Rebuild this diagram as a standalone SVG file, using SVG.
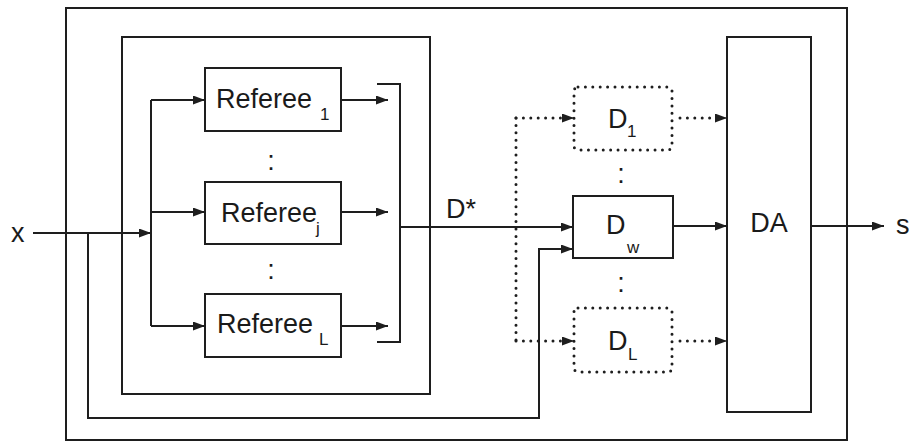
<svg xmlns="http://www.w3.org/2000/svg" width="912" height="441" viewBox="0 0 912 441">
  <style>
    .box { fill: #ffffff; stroke: #1e1e1e; stroke-width: 2; }
    .frame { fill: none; stroke: #1e1e1e; stroke-width: 2; }
    .dotbox { fill: #ffffff; stroke: #1e1e1e; stroke-width: 3; stroke-linecap: round; stroke-dasharray: 0 7.4; }
    .wire { fill: none; stroke: #1e1e1e; stroke-width: 2; }
    .dotwire { fill: none; stroke: #1e1e1e; stroke-width: 3; stroke-linecap: round; stroke-dasharray: 0 7.4; }
    .lbl { font-family: "Liberation Sans", Arial, sans-serif; font-size: 27px; fill: #1a1a1a; }
    .sub { font-family: "Liberation Sans", Arial, sans-serif; font-size: 17px; fill: #1a1a1a; }
  </style>
  <defs>
    <marker id="arrow" viewBox="0 0 12 9" refX="12" refY="4.5" markerWidth="12" markerHeight="9" markerUnits="userSpaceOnUse" orient="auto">
      <path d="M0,0 L12,4.5 L0,9 Z" fill="#1e1e1e"/>
    </marker>
  </defs>

  <rect width="912" height="441" fill="#ffffff"/>

  <!-- enclosing frames -->
  <g id="system-frame">
    <rect class="frame" x="66" y="8" width="781" height="432"/>
  </g>
  <g id="referee-bank">
    <rect class="frame" x="122" y="37" width="308" height="357"/>
  </g>

  <!-- referees -->
  <g id="referee-1">
    <rect class="box" x="205" y="68" width="136" height="63"/>
    <text class="lbl" x="216" y="108">Referee</text>
    <text class="sub" x="320" y="120">1</text>
  </g>
  <g id="referee-j">
    <rect class="box" x="205" y="182" width="136" height="62"/>
    <text class="lbl" x="221" y="222">Referee</text>
    <text class="sub" x="316" y="234">j</text>
  </g>
  <g id="referee-L">
    <rect class="box" x="205" y="294" width="136" height="63"/>
    <text class="lbl" x="217" y="333">Referee</text>
    <text class="sub" x="319" y="345">L</text>
  </g>
  <text class="lbl" x="271" y="170" text-anchor="middle">:</text>
  <text class="lbl" x="271" y="279" text-anchor="middle">:</text>

  <!-- detectors -->
  <g id="detector-1">
    <rect class="dotbox" x="574" y="87" width="98" height="63" rx="4"/>
    <text class="lbl" x="608" y="128">D</text>
    <text class="sub" x="627" y="137">1</text>
  </g>
  <g id="detector-w">
    <rect class="box" x="573" y="196" width="100" height="62"/>
    <text class="lbl" x="606" y="234">D</text>
    <text class="sub" x="627" y="253">w</text>
  </g>
  <g id="detector-L">
    <rect class="dotbox" x="574" y="308" width="98" height="64" rx="4"/>
    <text class="lbl" x="608" y="350">D</text>
    <text class="sub" x="628" y="360">L</text>
  </g>
  <text class="lbl" x="621" y="183" text-anchor="middle">:</text>
  <text class="lbl" x="621" y="292" text-anchor="middle">:</text>

  <!-- aggregator -->
  <g id="aggregator">
    <rect class="box" x="727" y="37" width="84" height="375"/>
    <text class="lbl" x="769" y="232" text-anchor="middle">DA</text>
  </g>

  <!-- terminals -->
  <g id="input-x">
    <text class="lbl" x="11" y="242">x</text>
  </g>
  <g id="output-s">
    <text class="lbl" x="896" y="234">s</text>
  </g>
  <text class="lbl" x="446" y="218">D*</text>

  <!-- connectors -->
  <g id="connectors">
    <path class="wire" d="M33,233 H151" marker-end="url(#arrow)"/>
    <path class="wire" d="M151,100 V326"/>
    <path class="wire" d="M151,100 H205" marker-end="url(#arrow)"/>
    <path class="wire" d="M151,212 H205" marker-end="url(#arrow)"/>
    <path class="wire" d="M151,326 H205" marker-end="url(#arrow)"/>
    <path class="wire" d="M341,100 H388" marker-end="url(#arrow)"/>
    <path class="wire" d="M341,212 H388" marker-end="url(#arrow)"/>
    <path class="wire" d="M341,326 H388" marker-end="url(#arrow)"/>
    <path class="wire" d="M377,84 H400 V342 H377"/>
    <path class="wire" d="M400,227 H573" marker-end="url(#arrow)"/>
    <path class="wire" d="M88,233 V418 H539 V249 H573" marker-end="url(#arrow)"/>
    <path class="dotwire" d="M516,118 V341"/>
    <path class="dotwire" d="M516,118 H564"/>
    <path class="wire" d="M564,118 H574" marker-end="url(#arrow)" style="stroke-width:1"/>
    <path class="dotwire" d="M516,341 H564"/>
    <path class="wire" d="M564,341 H574" marker-end="url(#arrow)" style="stroke-width:1"/>
    <path class="dotwire" d="M680,118 H716"/>
    <path class="wire" d="M716,118 H727" marker-end="url(#arrow)" style="stroke-width:1"/>
    <path class="dotwire" d="M680,341 H716"/>
    <path class="wire" d="M716,341 H727" marker-end="url(#arrow)" style="stroke-width:1"/>
    <path class="wire" d="M673,226 H727" marker-end="url(#arrow)"/>
    <path class="wire" d="M811,226 H884" marker-end="url(#arrow)"/>
  </g>
</svg>
